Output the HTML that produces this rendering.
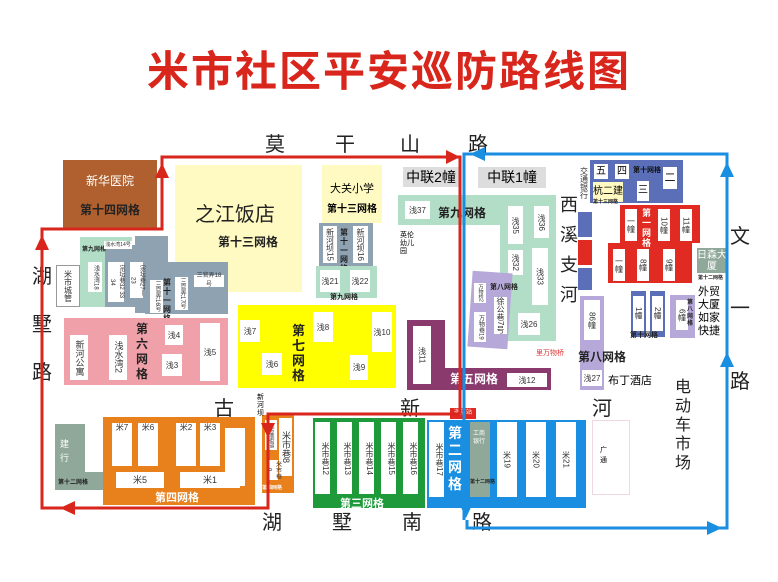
<!DOCTYPE html>
<html><head><meta charset="utf-8"><style>
body{margin:0;width:778px;height:582px;background:#fff;position:relative;overflow:hidden;font-family:"Liberation Sans","Noto Sans CJK SC",sans-serif;}
.a{position:absolute;box-sizing:border-box;}
.w{position:absolute;background:#fff;font-size:8px;color:#333;text-align:center;line-height:9px;display:flex;align-items:center;justify-content:center;writing-mode:vertical-rl;}
.h{writing-mode:horizontal-tb;}
.t{position:absolute;font-weight:bold;color:#222;}
.r{position:absolute;font-size:20px;color:#222;}
</style></head><body>
<div class="a" style="left:0;top:38px;width:778px;text-align:center;font-size:42px;font-weight:bold;color:#d9261c;letter-spacing:2px;">米市社区平安巡防路线图</div>

<!-- road names -->
<div class="r" style="left:265px;top:128px">莫</div><div class="r" style="left:335px;top:128px">干</div><div class="r" style="left:400px;top:128px">山</div><div class="r" style="left:468px;top:128px">路</div>
<div class="r" style="left:32px;top:260px">湖</div><div class="r" style="left:32px;top:308px">墅</div><div class="r" style="left:32px;top:356px">路</div>
<div class="r" style="left:730px;top:220px">文</div><div class="r" style="left:730px;top:292px">一</div><div class="r" style="left:730px;top:365px">路</div>
<div class="r" style="left:214px;top:392px">古</div><div class="r" style="left:400px;top:392px">新</div><div class="r" style="left:592px;top:392px">河</div>
<div class="r" style="left:262px;top:506px">湖</div><div class="r" style="left:332px;top:506px">墅</div><div class="r" style="left:402px;top:506px">南</div><div class="r" style="left:472px;top:506px">路</div>
<div class="r" style="left:560px;top:190px;width:20px;line-height:30px;font-size:18px">西溪支河</div>
<div class="r" style="left:675px;top:378px;width:20px;line-height:19px;font-size:16px">电动车市场</div>

<!-- top-left -->
<div class="a" style="left:63px;top:160px;width:94px;height:69px;background:#b0602e;color:#fff;text-align:center;font-size:12px;padding-top:12px">新华医院<div style="color:#222;font-weight:bold;font-size:12px;margin-top:12px">第十四网格</div></div>
<div class="a" style="left:175px;top:165px;width:127px;height:127px;background:#fffac2"></div>
<div class="t" style="left:195px;top:198px;font-size:20px;font-weight:normal">之江饭店</div>
<div class="t" style="left:218px;top:233px;font-size:12px">第十三网格</div>
<div class="a" style="left:322px;top:165px;width:60px;height:58px;background:#fffac2;text-align:center;font-size:11px;padding-top:15px">大关小学<div style="font-weight:bold;font-size:10px;margin-top:4px">第十三网格</div></div>
<div class="a" style="left:319px;top:223px;width:54px;height:43px;background:#8ea2b2"></div>
<div class="w" style="left:323px;top:226px;width:14px;height:37px">新河坝15</div>
<div class="w" style="left:353px;top:226px;width:15px;height:37px">新河坝16</div>
<div class="t" style="left:340px;top:228px;font-size:8px;width:10px;line-height:9px">第十一网格</div>
<div class="a" style="left:316px;top:266px;width:61px;height:32px;background:#b2dec8"></div>
<div class="w h" style="left:320px;top:270px;width:20px;height:22px">浅21</div>
<div class="w h" style="left:350px;top:270px;width:20px;height:22px">浅22</div>
<div class="t" style="left:330px;top:292px;font-size:7px">第九网格</div>

<!-- left gray + green -->
<div class="a" style="left:80px;top:237px;width:52px;height:70px;background:#b2dec8"></div>
<div class="a" style="left:105px;top:245px;width:30px;height:62px;background:#8ea2b2"></div>
<div class="a" style="left:135px;top:236px;width:33px;height:77px;background:#8ea2b2"></div>
<div class="a" style="left:145px;top:262px;width:83px;height:52px;background:#8ea2b2"></div>
<div class="t" style="left:82px;top:244px;font-size:6px">第九网格</div>
<div class="w h" style="left:104px;top:241px;width:28px;height:8px;font-size:5px">浅水湾14号</div>
<div class="w" style="left:88px;top:262px;width:14px;height:30px;font-size:6px">浅水湾18</div>
<div class="w" style="left:108px;top:262px;width:16px;height:40px;font-size:6px">宗坛巷32 33 34</div>
<div class="w" style="left:130px;top:262px;width:13px;height:36px;font-size:6px">宗坛巷27—23</div>
<div class="w" style="left:150px;top:280px;width:13px;height:33px;font-size:6px">三官弄16号</div>
<div class="w" style="left:175px;top:277px;width:13px;height:33px;font-size:6px">三官弄17号</div>
<div class="w h" style="left:194px;top:275px;width:30px;height:12px;font-size:6px">三官弄18号</div>
<div class="t" style="left:163px;top:278px;font-size:8px;width:9px;line-height:9px">第十一网格</div>
<div class="w" style="left:56px;top:265px;width:22px;height:40px;border:1px solid #999;font-size:8px">米市城管</div>

<!-- pink -->
<div class="a" style="left:64px;top:318px;width:164px;height:67px;background:#f0a0a8"></div>
<div class="w" style="left:70px;top:335px;width:18px;height:45px;font-size:9px">新河公寓</div>
<div class="w" style="left:109px;top:335px;width:18px;height:45px;font-size:9px">浅水湾2</div>
<div class="t" style="left:136px;top:322px;font-size:12px;width:13px;line-height:15px">第六网格</div>
<div class="w h" style="left:165px;top:325px;width:18px;height:20px">浅4</div>
<div class="w h" style="left:162px;top:354px;width:20px;height:22px">浅3</div>
<div class="w h" style="left:200px;top:323px;width:20px;height:58px">浅5</div>

<!-- yellow -->
<div class="a" style="left:238px;top:305px;width:158px;height:83px;background:#ffff00"></div>
<div class="w h" style="left:240px;top:320px;width:20px;height:22px">浅7</div>
<div class="w h" style="left:262px;top:353px;width:20px;height:22px">浅6</div>
<div class="w h" style="left:313px;top:312px;width:20px;height:30px">浅8</div>
<div class="w h" style="left:350px;top:355px;width:18px;height:25px">浅9</div>
<div class="w h" style="left:372px;top:312px;width:20px;height:40px">浅10</div>
<div class="t" style="left:292px;top:323px;font-size:13px;width:14px;line-height:15px">第七网格</div>

<!-- top middle -->
<div class="a" style="left:403px;top:167px;width:56px;height:20px;background:#ddd;font-size:14px;text-align:center;line-height:20px">中联2幢</div>
<div class="a" style="left:478px;top:167px;width:68px;height:21px;background:#ddd;font-size:14px;text-align:center;line-height:21px">中联1幢</div>
<div class="a" style="left:398px;top:195px;width:158px;height:30px;background:#b2dec8"></div>
<div class="a" style="left:500px;top:195px;width:56px;height:146px;background:#b2dec8"></div>
<div class="w h" style="left:405px;top:201px;width:25px;height:18px">浅37</div>
<div class="t" style="left:438px;top:204px;font-size:12px">第九网格</div>
<div class="w" style="left:508px;top:206px;width:15px;height:38px">浅35</div>
<div class="w" style="left:534px;top:206px;width:15px;height:32px">浅36</div>
<div class="w" style="left:508px;top:250px;width:15px;height:25px">浅32</div>
<div class="w" style="left:532px;top:248px;width:16px;height:57px">浅33</div>
<div class="w h" style="left:518px;top:313px;width:22px;height:22px">浅26</div>
<div class="a" style="left:400px;top:232px;width:14px;font-size:7px;line-height:8px">英伦幼儿园</div>
<div class="a" style="left:470px;top:272px;width:40px;height:76px;background:#b6a8d8;transform:rotate(4deg)"></div>
<div class="w" style="left:474px;top:283px;width:12px;height:20px;font-size:5px">万物桥2</div>
<div class="w" style="left:474px;top:312px;width:12px;height:30px;font-size:6px">万物巷19</div>
<div class="w" style="left:494px;top:297px;width:13px;height:37px">徐公巷7号</div>
<div class="t" style="left:490px;top:282px;font-size:7px">第八网格</div>
<div class="a" style="left:536px;top:348px;font-size:7px;color:#d33">里万物桥</div>

<!-- purple -->
<div class="a" style="left:407px;top:320px;width:38px;height:70px;background:#8b3a6e"></div>
<div class="a" style="left:445px;top:368px;width:106px;height:22px;background:#8b3a6e"></div>
<div class="w" style="left:413px;top:326px;width:18px;height:58px">浅11</div>
<div class="t" style="left:450px;top:370px;font-size:12px;color:#fff">第五网格</div>
<div class="w h" style="left:507px;top:373px;width:40px;height:14px">浅12</div>

<!-- right top -->
<div class="a" style="left:590px;top:160px;width:93px;height:43px;background:#5a6fb8"></div>
<div class="w" style="left:578px;top:162px;width:12px;height:42px">交通银行</div>
<div class="a" style="left:594px;top:164px;width:14px;height:15px;background:#fff;font-size:10px;text-align:center;line-height:15px">五</div>
<div class="a" style="left:615px;top:164px;width:14px;height:15px;background:#fff;font-size:10px;text-align:center;line-height:15px">四</div>
<div class="t" style="left:633px;top:165px;font-size:7px;color:#111">第十网格</div>
<div class="a" style="left:663px;top:167px;width:14px;height:22px;background:#fff;font-size:11px;text-align:center;line-height:22px">二</div>
<div class="a" style="left:637px;top:181px;width:12px;height:20px;background:#fff;font-size:10px;text-align:center;line-height:20px">三</div>
<div class="a" style="left:593px;top:182px;width:30px;height:20px;background:#fffac2;font-size:10px;text-align:center">杭二建</div>
<div class="t" style="left:593px;top:198px;font-size:5px">第十三网格</div>
<div class="a" style="left:620px;top:205px;width:80px;height:38px;background:#e02a22"></div>
<div class="a" style="left:608px;top:243px;width:84px;height:40px;background:#e02a22"></div>
<div class="w" style="left:625px;top:209px;width:12px;height:32px">一幢</div>
<div class="w" style="left:658px;top:209px;width:12px;height:32px">10幢</div>
<div class="w" style="left:680px;top:209px;width:12px;height:32px">11幢</div>
<div class="t" style="left:642px;top:208px;font-size:9px;color:#fff;width:10px;line-height:10px">第一网格</div>
<div class="w" style="left:613px;top:249px;width:12px;height:32px">一幢</div>
<div class="w" style="left:637px;top:249px;width:12px;height:32px">8幢</div>
<div class="w" style="left:663px;top:249px;width:12px;height:32px">9幢</div>
<div class="a" style="left:578px;top:212px;width:14px;height:25px;background:#5a6fb8"></div>
<div class="a" style="left:578px;top:240px;width:14px;height:25px;background:#e02a22"></div>
<div class="a" style="left:578px;top:268px;width:14px;height:22px;background:#5a6fb8"></div>
<div class="a" style="left:697px;top:248px;width:30px;height:25px;background:#8fa89a;color:#fff;font-size:10px;text-align:center;line-height:11px;padding-top:2px">日森大厦</div>
<div class="t" style="left:698px;top:274px;font-size:5px">第十二网格</div>
<div class="a" style="left:698px;top:286px;width:28px;font-size:11px;line-height:13px">外贸大厦如家快捷</div>
<div class="a" style="left:631px;top:291px;width:15px;height:46px;background:#5a6fb8"></div>
<div class="a" style="left:650px;top:291px;width:15px;height:46px;background:#5a6fb8"></div>
<div class="w" style="left:633px;top:296px;width:11px;height:35px">1幢</div>
<div class="w" style="left:652px;top:296px;width:11px;height:35px">2幢</div>
<div class="t" style="left:630px;top:330px;font-size:7px">第十网格</div>
<div class="a" style="left:670px;top:295px;width:25px;height:43px;background:#b6a8d8"></div>
<div class="w" style="left:676px;top:300px;width:12px;height:30px">6幢</div>
<div class="t" style="left:687px;top:300px;font-size:6px;width:8px;line-height:7px">第八网格</div>
<div class="a" style="left:580px;top:296px;width:24px;height:94px;background:#b6a8d8"></div>
<div class="w" style="left:584px;top:300px;width:16px;height:40px">86幢</div>
<div class="w h" style="left:582px;top:370px;width:20px;height:16px">浅27</div>
<div class="t" style="left:578px;top:348px;font-size:12px">第八网格</div>
<div class="a" style="left:608px;top:372px;font-size:11px">布丁酒店</div>

<!-- bottom -->
<div class="a" style="left:55px;top:424px;width:30px;height:66px;background:#8fa89a"></div>
<div class="a" style="left:55px;top:472px;width:48px;height:18px;background:#8fa89a"></div>
<div class="a" style="left:60px;top:437px;width:10px;font-size:9px;color:#fff;line-height:14px">建行</div>
<div class="t" style="left:58px;top:477px;font-size:6px">第十二网格</div>
<div class="a" style="left:103px;top:417px;width:152px;height:88px;background:#e8801c"></div>
<div class="w h" style="left:112px;top:423px;width:20px;height:43px;align-items:flex-start">米7</div>
<div class="w h" style="left:138px;top:423px;width:20px;height:43px;align-items:flex-start">米6</div>
<div class="w h" style="left:176px;top:423px;width:20px;height:43px;align-items:flex-start">米2</div>
<div class="w h" style="left:200px;top:423px;width:20px;height:43px;align-items:flex-start">米3</div>
<div class="a" style="left:225px;top:428px;width:20px;height:58px;background:#fff"></div>
<div class="w h" style="left:116px;top:472px;width:48px;height:16px;font-size:9px">米5</div>
<div class="w h" style="left:180px;top:472px;width:60px;height:16px;font-size:9px">米1</div>
<div class="t" style="left:155px;top:489px;font-size:11px;color:#fff">第四网格</div>
<div class="a" style="left:262px;top:415px;width:32px;height:78px;background:#e8801c"></div>
<div class="w" style="left:265px;top:420px;width:12px;height:30px;font-size:5px">米市巷街道</div>
<div class="w" style="left:279px;top:418px;width:13px;height:58px;font-size:9px">米市巷8</div>
<div class="w" style="left:267px;top:460px;width:11px;height:20px;font-size:6px">米市巷9</div>
<div class="t" style="left:262px;top:484px;font-size:5px;color:#fff">第四网格</div>
<div class="a" style="left:313px;top:418px;width:112px;height:90px;background:#1e9a3a"></div>
<div class="w" style="left:315px;top:422px;width:15px;height:72px;align-items:flex-start;font-size:8px">米市巷12</div>
<div class="w" style="left:337px;top:422px;width:15px;height:72px;align-items:flex-start;font-size:8px">米市巷13</div>
<div class="w" style="left:359px;top:422px;width:15px;height:72px;align-items:flex-start;font-size:8px">米市巷14</div>
<div class="w" style="left:381px;top:422px;width:15px;height:72px;align-items:flex-start;font-size:8px">米市巷15</div>
<div class="w" style="left:403px;top:422px;width:15px;height:72px;align-items:flex-start;font-size:8px">米市巷16</div>
<div class="t" style="left:340px;top:495px;font-size:11px;color:#fff">第三网格</div>
<div class="a" style="left:427px;top:420px;width:159px;height:88px;background:#1a8ee0"></div>
<div class="w" style="left:429px;top:422px;width:15px;height:75px;align-items:flex-start;font-size:8px">米市巷17</div>
<div class="t" style="left:448px;top:425px;font-size:14px;color:#fff;width:16px;line-height:17px">第二网格</div>
<div class="a" style="left:470px;top:422px;width:20px;height:75px;background:#8fa89a"></div>
<div class="a" style="left:473px;top:430px;width:12px;font-size:6px;color:#fff;line-height:8px">工商银行</div>
<div class="t" style="left:470px;top:478px;font-size:5px">第十二网格</div>
<div class="w" style="left:497px;top:422px;width:20px;height:75px">米19</div>
<div class="w" style="left:526px;top:422px;width:20px;height:75px">米20</div>
<div class="w" style="left:556px;top:422px;width:20px;height:75px">米21</div>
<div class="a" style="left:592px;top:420px;width:38px;height:75px;border:1px solid #f0d8e0"></div>
<div class="a" style="left:600px;top:445px;font-size:7px;width:8px">广通</div>
<div class="a" style="left:450px;top:408px;width:26px;height:11px;background:#e02a22;color:#fff;font-size:6px;text-align:center;line-height:11px">巡防站</div>
<div class="a" style="left:257px;top:394px;width:8px;font-size:7px;line-height:8px">新河坝</div>

<!-- routes -->
<svg class="a" style="left:0;top:0" width="778" height="582">
<g fill="none" stroke="#d9261c" stroke-width="3">
<polyline points="460,414 460,157 162,157 162,229 42,229 42,508 268,508 268,414 460,414"/>
</g>
<g fill="#d9261c">
<polygon points="460,157 446,150 446,164"/>
<polygon points="162,163 155,178 169,178"/>
<polygon points="42,235 35,250 49,250"/>
<polygon points="60,508 75,501 75,515"/>
<polygon points="268,438 261,423 275,423"/>
</g>
<g fill="none" stroke="#1a8ee0" stroke-width="3">
<polyline points="464,520 464,154 727,154 727,528 467,528 467,520"/>
</g>
<g fill="#1a8ee0">
<polygon points="470,154 485,147 485,161"/>
<polygon points="727,162 720,177 734,177"/>
<polygon points="727,352 720,367 734,367"/>
<polygon points="722,528 707,521 707,535"/>
<polygon points="466,518 459,503 473,503"/>
</g>
</svg>
</body></html>
